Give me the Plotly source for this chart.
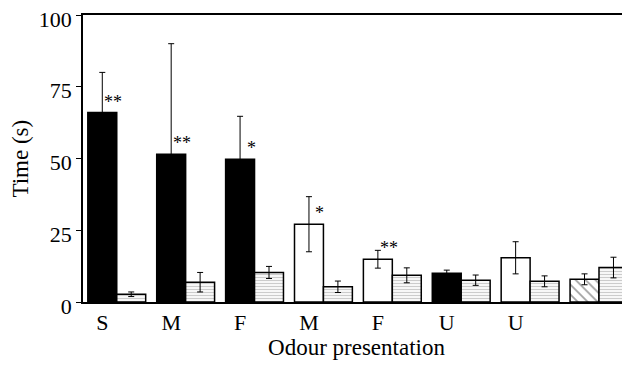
import plotly.graph_objects as go

# ---- data ----
group_labels = ["S", "M", "F", "M", "F", "U", "U", ""]
odour_mean = [66.0, 51.5, 49.7, 27.1, 14.9, 10.0, 15.4, 7.9]
odour_err = [14.0, 38.5, 15.0, 9.6, 3.1, 1.1, 5.6, 1.9]
control_mean = [2.7, 6.9, 10.3, 5.3, 9.3, 7.6, 7.2, 12.0]
control_err = [0.8, 3.4, 2.1, 2.0, 2.6, 1.8, 1.9, 3.6]
stars = ["**", "**", "*", "*", "**", "", "", ""]
odour_fill = ["black", "black", "black", "white", "white", "black", "white", "white"]
odour_pattern = ["", "", "", "", "", "", "", "\\"]

FONT = "Liberation Serif"
bargap = 0.16
bar_w = (1 - bargap) / 2
x = list(range(len(group_labels)))

fig = go.Figure()
fig.add_trace(go.Bar(
    x=x, y=odour_mean,
    marker=dict(color=odour_fill, line=dict(color="black", width=1.5),
                pattern=dict(shape=odour_pattern, fgcolor="black", bgcolor="white",
                             size=7, solidity=0.25, fillmode="overlay")),
    error_y=dict(type="data", array=odour_err, visible=True, color="black",
                 thickness=1, width=3),
    showlegend=False,
))
fig.add_trace(go.Bar(
    x=x, y=control_mean,
    marker=dict(color="white", line=dict(color="black", width=1.5),
                pattern=dict(shape="-", fgcolor="#9a9a9a", bgcolor="white",
                             size=3, solidity=0.45, fillmode="overlay")),
    error_y=dict(type="data", array=control_err, visible=True, color="black",
                 thickness=1, width=3),
    showlegend=False,
))

for i, s in enumerate(stars):
    if s:
        fig.add_annotation(x=i - bar_w / 2 + 0.16, y=odour_mean[i], text=s,
                           showarrow=False, xanchor="center", yanchor="bottom",
                           yshift=-1, font=dict(family=FONT, size=18, color="black"))

# y-axis title as a rotated annotation so it can sit exactly where the reference has it
fig.add_annotation(xref="paper", yref="paper", x=-0.115, y=0.5, text="Time (s)",
                   textangle=-90, showarrow=False, xanchor="center", yanchor="middle",
                   font=dict(family=FONT, size=23, color="black"))

tick_pos = [i - bar_w / 2 for i in x if group_labels[i]]
tick_txt = [t for t in group_labels if t]

# page body has an 8px default margin, so the figure is 8px smaller each way
fig.update_layout(
    width=622, height=357,
    margin=dict(l=75, r=0, t=7, b=63),
    paper_bgcolor="white", plot_bgcolor="white",
    barmode="group", bargap=bargap, bargroupgap=0,
    font=dict(family=FONT, size=22, color="black"),
    xaxis=dict(range=[-0.49, 7.45], tickmode="array", tickvals=tick_pos, ticktext=tick_txt,
               showline=True, linecolor="black", linewidth=1.5, mirror=True,
               ticks="", showgrid=False, zeroline=False, automargin=False,
               title=dict(text="Odour presentation", standoff=5,
                          font=dict(family=FONT, size=23))),
    yaxis=dict(range=[0, 100], tickvals=[0, 25, 50, 75, 100],
               showline=True, linecolor="black", linewidth=1.5, mirror=False,
               ticks="outside", ticklen=5, tickcolor="black", showgrid=False, zeroline=False,
               automargin=False, ticklabeloverflow="allow", ticklabelshift=4),
)

fig.write_html("out.html")
